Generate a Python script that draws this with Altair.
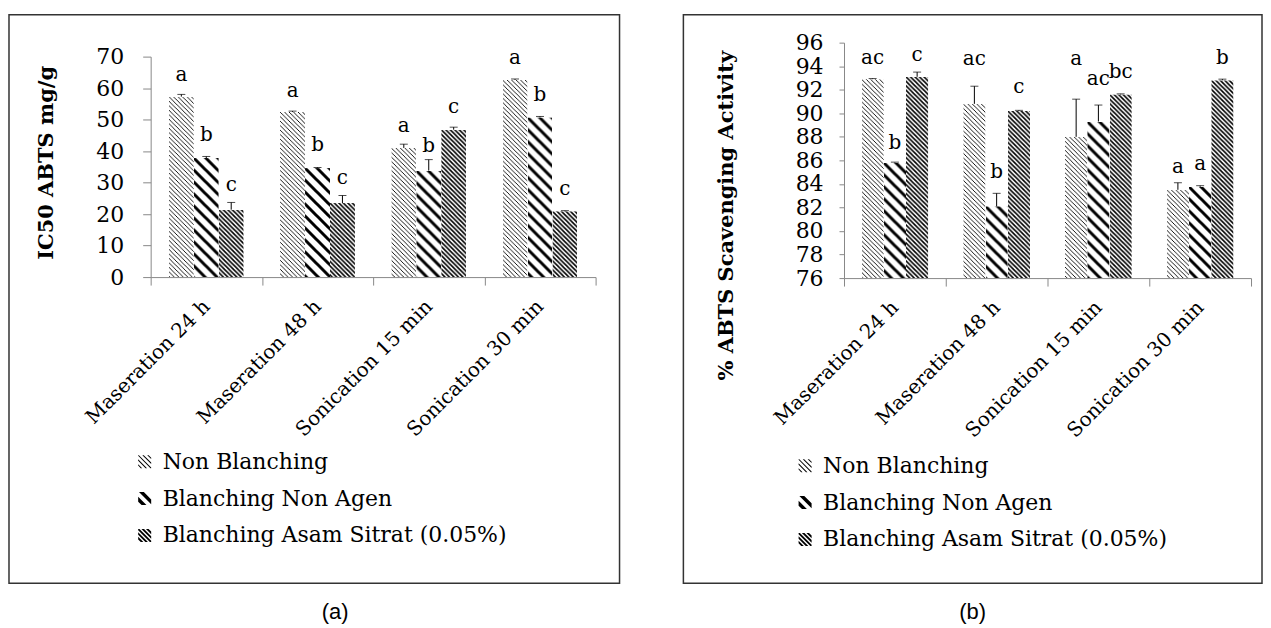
import base64
import altair as alt
import pandas as pd

# ---------------- data ----------------
categories = ["Maseration 24 h", "Maseration 48 h", "Sonication 15 min", "Sonication 30 min"]
series = ["Non Blanching", "Blanching Non Agen", "Blanching Asam Sitrat (0.05%)"]

# panel (a): IC50 ABTS mg/g
a_nb = [57.3, 52.4, 41.0, 62.6]
a_bna = [37.8, 34.6, 33.8, 50.7]
a_as = [21.4, 23.5, 46.8, 20.9]
a_nb_err = [0.7, 0.3, 1.2, 0.3]
a_bna_err = [0.5, 0.2, 3.5, 0.3]
a_as_err = [2.3, 2.4, 0.8, 0.2]
a_nb_lab = ["a", "a", "a", "a"]
a_bna_lab = ["b", "b", "b", "b"]
a_as_lab = ["c", "c", "c", "c"]
a_nb_laby = [62.3, 57.3, 46.2, 67.7]
a_bna_laby = [43.1, 39.9, 39.7, 56.0]
a_as_laby = [27.2, 29.4, 52.0, 26.0]
a_ticks = [0, 10, 20, 30, 40, 50, 60, 70]

# panel (b): % ABTS scavenging activity
b_nb = [92.9, 90.8, 88.0, 83.5]
b_bna = [85.8, 82.1, 89.3, 83.75]
b_as = [93.1, 90.2, 91.6, 92.8]
b_nb_err = [0.05, 1.5, 3.2, 0.6]
b_bna_err = [0.05, 1.1, 1.4, 0.1]
b_as_err = [0.4, 0.05, 0.05, 0.1]
b_nb_lab = ["ac", "ac", "a", "a"]
b_bna_lab = ["b", "b", "ac", "a"]
b_as_lab = ["c", "c", "bc", "b"]
b_nb_laby = [94.2, 94.1, 94.1, 84.9]
b_bna_laby = [87.0, 84.5, 92.4, 85.2]
b_as_laby = [94.4, 91.7, 93.0, 94.2]
b_ticks = [76, 78, 80, 82, 84, 86, 88, 90, 92, 94, 96]

SERIF = "DejaVu Serif"


# ---------------- hatch patterns ----------------
def pattern_uri(period, stroke):
    P = period
    d = (f"M{-P},0 L{P},{2*P} M0,{-P} L{2*P},{P} M{-P},{-P} L{2*P},{2*P}")
    svg = (
        '<svg xmlns="http://www.w3.org/2000/svg" width="100%" height="100%">'
        f'<defs><pattern id="p" x="0" y="0" width="{P}" height="{P}" patternUnits="userSpaceOnUse">'
        f'<path d="{d}" stroke="black" stroke-width="{stroke}" fill="none"/></pattern></defs>'
        '<rect x="0" y="0" width="100%" height="100%" fill="white"/>'
        '<rect x="0" y="0" width="100%" height="100%" fill="url(#p)"/></svg>'
    )
    return "data:image/svg+xml;base64," + base64.b64encode(svg.encode()).decode()


PATTERNS = [pattern_uri(4.5, 0.9), pattern_uri(12, 3.0), pattern_uri(4.5, 1.6)]


def band_path(c1, c2):
    poly = [(-1.0, -1.0), (1.0, -1.0), (1.0, 1.0), (-1.0, 1.0)]

    def clip(poly, f):
        out = []
        n = len(poly)
        for i in range(n):
            p, q = poly[i], poly[(i + 1) % n]
            fp, fq = f(p), f(q)
            if fp >= 0:
                out.append(p)
            if (fp >= 0) != (fq >= 0):
                t = fp / (fp - fq)
                out.append((p[0] + t * (q[0] - p[0]), p[1] + t * (q[1] - p[1])))
        return out

    poly = clip(poly, lambda p: (p[0] - p[1]) - c1)
    poly = clip(poly, lambda p: c2 - (p[0] - p[1]))
    if len(poly) < 3:
        return ""
    return "M" + "L".join(f"{x:.3f},{y:.3f}" for x, y in poly) + "Z"


def stripes(centers, width):
    return "".join(band_path(c - width / 2, c + width / 2) for c in centers)


SYMBOLS = [
    stripes([-1.5, -0.75, 0, 0.75, 1.5], 0.22),
    stripes([-1.1, 0.5], 0.75),
    stripes([-1.4, -0.7, 0, 0.7, 1.4], 0.4),
]


def panel_df(vals, errs, labs, labys):
    rows = []
    for si, s in enumerate(series):
        for ci, c in enumerate(categories):
            rows.append(dict(cat=c, ser=s, value=vals[si][ci],
                             top=vals[si][ci] + errs[si][ci],
                             lab=labs[si][ci], laby=labys[si][ci],
                             img=PATTERNS[si]))
    return pd.DataFrame(rows)


def panel(df, ymin, ymax, ticks, title, w, h, yrange, po, ytick, ypad, title_xy,
          legend_xy, box, tag, tag_xy):
    xsc = alt.Scale(domain=categories, paddingInner=0, paddingOuter=0)
    xax = alt.Axis(title=None, labelAngle=-45, labelAlign="right", labelBaseline="middle",
                   tickBand="extent", labelFont=SERIF, labelFontSize=20, labelColor="black",
                   labelPadding=18, tickSize=8, tickColor="#888888", domainColor="#888888",
                   labelLimit=400, grid=False)
    X = alt.X("cat:N", sort=categories, scale=xsc, axis=xax)
    XO = alt.XOffset("ser:N", sort=series,
                     scale=alt.Scale(domain=series, paddingInner=0, paddingOuter=po))
    ysc = alt.Scale(domain=[ymin, ymax], nice=False, zero=False, range=yrange)
    yax = alt.Axis(title=title, values=ticks, grid=False, labelFont=SERIF, labelFontSize=22,
                   labelColor="black", labelPadding=ypad, tickSize=ytick, tickColor="#888888",
                   domainColor="#888888", labelOverlap=False, titleFont=SERIF,
                   titleFontSize=21, titleFontWeight="bold", titleColor="black",
                   titleAngle=270, titleAlign="center", titleBaseline="middle",
                   titleX=title_xy[0], titleY=title_xy[1])

    def Y(field):
        return alt.Y(field, scale=ysc, axis=yax)

    base = alt.Chart(df)
    bars = base.mark_image(aspect=False).encode(
        x=X, xOffset=XO, y=Y("value:Q"), y2=alt.datum(ymin), url="img:N")
    rule = base.mark_rule(color="black", strokeWidth=1).encode(
        x=X, xOffset=XO, y=Y("value:Q"), y2="top:Q")
    cap = base.mark_tick(color="black", thickness=1, size=8).encode(
        x=X, xOffset=XO, y=Y("top:Q"))
    labels = base.mark_text(font=SERIF, fontSize=20, baseline="alphabetic",
                            color="black").encode(
        x=X, xOffset=XO, y=Y("laby:Q"), text="lab:N")
    leg = base.mark_point(filled=True, size=0, color="black").encode(
        x=X, xOffset=XO, y=Y("value:Q"),
        shape=alt.Shape("ser:N", sort=series,
                        scale=alt.Scale(domain=series, range=SYMBOLS),
                        legend=alt.Legend(title=None, orient="none", direction="vertical",
                                          legendX=legend_xy[0], legendY=legend_xy[1],
                                          labelFont=SERIF, labelFontSize=22,
                                          labelColor="black", labelLimit=600,
                                          symbolSize=170, symbolStrokeWidth=0,
                                          symbolFillColor="black", symbolOpacity=1,
                                          rowPadding=15, labelOffset=7, padding=0)))
    one = alt.Data(values=[{}])
    frame = alt.Chart(one).mark_rect(fillOpacity=0, stroke="#333333", strokeWidth=1.5).encode(
        x=alt.value(box[0]), x2=alt.value(box[1]), y=alt.value(box[2]), y2=alt.value(box[3]))
    tagt = alt.Chart(one).mark_text(text=tag, font="Liberation Sans", fontSize=22,
                                    color="black").encode(
        x=alt.value(tag_xy[0]), y=alt.value(tag_xy[1]))
    return alt.layer(bars, rule, cap, labels, leg, frame, tagt).properties(width=w, height=h)


# both panels share a common origin (page y = 41); panel (a)'s axis starts 14 px lower
left = panel(panel_df([a_nb, a_bna, a_as], [a_nb_err, a_bna_err, a_as_err],
                      [a_nb_lab, a_bna_lab, a_as_lab], [a_nb_laby, a_bna_laby, a_as_laby]),
             0, 70, a_ticks, "IC50 ABTS mg/g", 446, 235, [235, 14], 0.73, 8, 19,
             (-104, 120), (-17, 409), (-142, 470, -28, 542), "(a)", (185, 571))

right = panel(panel_df([b_nb, b_bna, b_as], [b_nb_err, b_bna_err, b_as_err],
                       [b_nb_lab, b_bna_lab, b_as_lab], [b_nb_laby, b_bna_laby, b_as_laby]),
              76, 96, b_ticks, "% ABTS Scavenging Activity", 408, 236, [236, 0], 0.787, 5, 16,
              (-118, 173), (-50, 413), (-161, 419, -28, 542), "(b)", (129, 571))

chart = (
    alt.hconcat(left, right, spacing=62)
    .resolve_scale(x="independent", y="independent", xOffset="independent", shape="independent")
    .resolve_legend(shape="independent")
    .properties(padding={"left": 0, "top": 5, "right": 0, "bottom": 0})
    .configure_view(stroke=None)
)

chart.save("out.html", embed_options={"renderer": "svg", "actions": False})
